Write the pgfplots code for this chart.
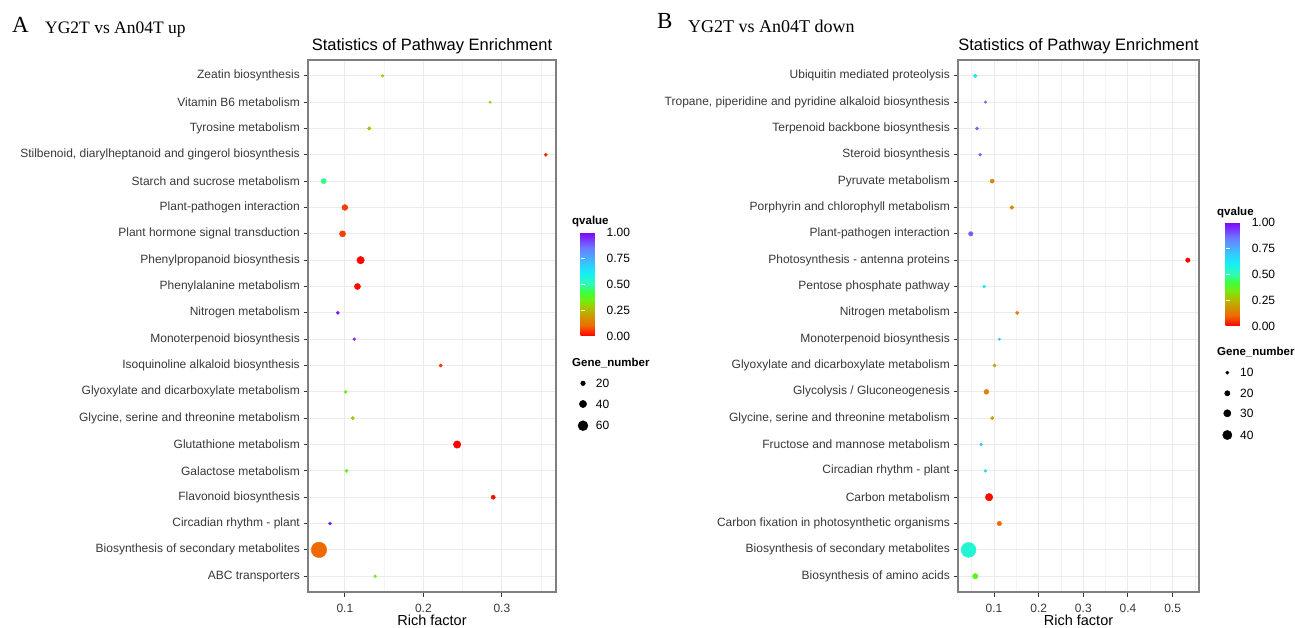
\documentclass[border=0pt]{standalone}
\usepackage{fontspec}
\setmainfont{Liberation Sans}
\newfontfamily\seriffont{Liberation Serif}
\usepackage{pgfplots}
\pgfplotsset{compat=1.18}
\usepackage{pgfplotstable}
\definecolor{framec}{HTML}{7F7F7F}
\definecolor{gridc}{HTML}{EBEBEB}
\definecolor{gridm}{HTML}{F3F3F3}
\definecolor{tickc}{HTML}{333333}
\definecolor{labc}{HTML}{383838}

\pgfplotstableread{
idx rf q n
20 0.148 0.30 5
19 0.285 0.33 3
18 0.131 0.25 10
17 0.356 0.04 8
16 0.073 0.47 23
15 0.100 0.06 28
14 0.097 0.06 30
13 0.120 0.005 40
12 0.116 0.01 30
11 0.091 0.97 8
10 0.112 0.95 5
9 0.222 0.06 8
8 0.101 0.36 8
7 0.110 0.26 10
6 0.243 0.00 40
5 0.102 0.36 10
4 0.289 0.01 15
3 0.081 0.96 8
2 0.067 0.10 100
1 0.1385 0.35 5
}\upT

\pgfplotstableread{
idx rf q n
20 0.058 0.62 12
19 0.081 0.88 5
18 0.062 0.88 8
17 0.069 0.88 7
16 0.096 0.15 13
15 0.140 0.15 12
14 0.048 0.88 15
13 0.534 0.00 15
12 0.078 0.63 7
11 0.152 0.14 10
10 0.112 0.70 5
9 0.101 0.20 8
8 0.083 0.15 17
7 0.096 0.20 10
6 0.071 0.68 7
5 0.081 0.64 7
4 0.089 0.01 30
3 0.112 0.10 15
2 0.043 0.55 67
1 0.058 0.37 20
}\downT

\pgfplotsset{
  colormap={qv}{rgb255(0pt)=(255,0,0) rgb255(10pt)=(240,105,0) rgb255(20pt)=(200,160,0) rgb255(27pt)=(170,195,0) rgb255(35pt)=(110,240,20) rgb255(42pt)=(60,255,60) rgb255(50pt)=(50,250,180) rgb255(60pt)=(20,240,245) rgb255(72pt)=(60,190,255) rgb255(85pt)=(110,120,255) rgb255(100pt)=(128,0,255)},
  enrich/.style={
    scale only axis, anchor=south west, height=532pt,
    ymin=0.4, ymax=20.6, ytick={1,...,20},
    grid=both,
    major grid style={gridc, line width=1pt},
    minor grid style={gridm, line width=0.6pt},
    axis line style={framec, line width=1.1pt},
    tick align=outside, major tick length=4.5pt, minor tick length=0pt,
    tick style={tickc, line width=1pt},
    xtick pos=left, ytick pos=left,
    colormap name=qv, point meta min=0, point meta max=1,
    ticklabel style={font=\fontsize{12}{14}\selectfont, text=labc},
    yticklabel style={anchor=east, inner sep=0pt, xshift=-3.5pt},
    xticklabel style={anchor=base, inner sep=0pt, yshift=-15.5pt},
    title style={font=\fontsize{16.5}{18}\selectfont, at={(0.5,1)}, anchor=base, yshift=3pt},
    xlabel style={font=\fontsize{14.5}{16}\selectfont, at={(axis description cs:0.5,0)}, anchor=base, yshift=-33pt},
    title={Statistics of Pathway Enrichment}, xlabel={Rich factor},
    /pgf/number format/assume math mode=true,
    colorbar,
  },
  cbar/.style={
    axis line style={draw=none},
    width=21pt, height=104pt,
    ytick={0,0.25,0.5,0.75,1}, yticklabels={0.00,0.25,0.50,0.75,1.00},
    tick align=inside, major tick length=4pt, tick style={white, line width=0.8pt},
    ytick pos=both, yticklabel pos=right,
    yticklabel style={anchor=west, inner sep=0pt, xshift=5pt, font=\fontsize{12}{14}\selectfont, text=black},
    /pgf/number format/assume math mode=true,
  },
}

\begin{document}
\begin{tikzpicture}
\useasboundingbox (0,0) rectangle (1295pt,627pt);

% Panel A
\begin{axis}[enrich, at={(308pt,35pt)}, width=248pt,
  xmin=0.053, xmax=0.369,
  xtick={0.1,0.2,0.3}, xticklabels={0.1,0.2,0.3},
  minor xtick={0.15,0.25,0.35},
  yticklabels={ABC transporters, Biosynthesis of secondary metabolites, Circadian rhythm - plant, Flavonoid biosynthesis, Galactose metabolism, Glutathione metabolism, {Glycine, serine and threonine metabolism}, Glyoxylate and dicarboxylate metabolism, Isoquinoline alkaloid biosynthesis, Monoterpenoid biosynthesis, Nitrogen metabolism, Phenylalanine metabolism, Phenylpropanoid biosynthesis, Plant hormone signal transduction, Plant-pathogen interaction, Starch and sucrose metabolism, {Stilbenoid, diarylheptanoid and gingerol biosynthesis}, Tyrosine metabolism, Vitamin B6 metabolism, Zeatin biosynthesis},
  colorbar style={cbar, at={(parent axis.north east)}, anchor=north west, xshift=16pt, yshift=-172pt},
]
\addplot[scatter, only marks, mark=*, scatter src=explicit,
  scatter/use mapped color={draw=mapped color, fill=mapped color},
  visualization depends on={1.1+0.0665*\thisrow{n} \as \msz},
  scatter/@pre marker code/.append style={/tikz/mark size=\msz pt}]
  table[x=rf, y=idx, meta=q] {\upT};
\end{axis}

% Panel B
\begin{axis}[enrich, at={(958pt,35pt)}, width=241pt,
  xmin=0.0194, xmax=0.559,
  xtick={0.1,0.2,0.3,0.4,0.5}, xticklabels={0.1,0.2,0.3,0.4,0.5},
  minor xtick={0.05,0.15,0.25,0.35,0.45,0.55},
  yticklabels={Biosynthesis of amino acids, Biosynthesis of secondary metabolites, Carbon fixation in photosynthetic organisms, Carbon metabolism, Circadian rhythm - plant, Fructose and mannose metabolism, {Glycine, serine and threonine metabolism}, Glycolysis / Gluconeogenesis, Glyoxylate and dicarboxylate metabolism, Monoterpenoid biosynthesis, Nitrogen metabolism, Pentose phosphate pathway, Photosynthesis - antenna proteins, Plant-pathogen interaction, Porphyrin and chlorophyll metabolism, Pyruvate metabolism, Steroid biosynthesis, Terpenoid backbone biosynthesis, {Tropane, piperidine and pyridine alkaloid biosynthesis}, Ubiquitin mediated proteolysis},
  colorbar style={cbar, at={(parent axis.north east)}, anchor=north west, xshift=18pt, yshift=-162pt},
]
\addplot[scatter, only marks, mark=*, scatter src=explicit,
  scatter/use mapped color={draw=mapped color, fill=mapped color},
  visualization depends on={0.75+0.1*\thisrow{n} \as \msz},
  scatter/@pre marker code/.append style={/tikz/mark size=\msz pt}]
  table[x=rf, y=idx, meta=q] {\downT};
\end{axis}

% Overlay: headings and size legends
\begin{axis}[at={(0pt,0pt)}, anchor=south west, scale only axis, width=1295pt, height=627pt,
  xmin=0, xmax=1295, ymin=0, ymax=627, y dir=reverse, hide axis, clip=false]
\addplot[only marks, mark=*, black, mark size=2.33pt] coordinates {(583,383.3)};
\addplot[only marks, mark=*, black, mark size=3.66pt] coordinates {(583,404)};
\addplot[only marks, mark=*, black, mark size=4.99pt] coordinates {(583,425.7)};
\addplot[only marks, mark=*, black, mark size=1.65pt] coordinates {(1227.3,372.7)};
\addplot[only marks, mark=*, black, mark size=2.65pt] coordinates {(1227.3,393.3)};
\addplot[only marks, mark=*, black, mark size=3.65pt] coordinates {(1227.3,413.3)};
\addplot[only marks, mark=*, black, mark size=4.65pt] coordinates {(1227.3,435)};

\node[anchor=base west, inner sep=0pt, font=\seriffont\fontsize{23}{23}\selectfont] at (axis cs:12,32) {A};
\node[anchor=base west, inner sep=0pt, font=\seriffont\fontsize{17.5}{18}\selectfont] at (axis cs:45,33) {YG2T vs An04T up};
\node[anchor=base west, inner sep=0pt, font=\seriffont\fontsize{23}{23}\selectfont] at (axis cs:657,28) {B};
\node[anchor=base west, inner sep=0pt, font=\seriffont\fontsize{18}{18}\selectfont] at (axis cs:688,32) {YG2T vs An04T down};

\begin{scope}[every node/.style={anchor=west, inner sep=0pt, font=\fontsize{12}{14}\selectfont}]
\node[font=\bfseries\fontsize{11.5}{14}\selectfont] at (axis cs:572,222) {qvalue};
\node[font=\bfseries\fontsize{11.5}{14}\selectfont] at (axis cs:572,363) {Gene\_number};
\node at (axis cs:595.7,383.3) {20};
\node at (axis cs:595.7,404) {40};
\node at (axis cs:595.7,425.7) {60};
\node[font=\bfseries\fontsize{11.5}{14}\selectfont] at (axis cs:1217,213) {qvalue};
\node[font=\bfseries\fontsize{11.5}{14}\selectfont] at (axis cs:1217,352) {Gene\_number};
\node at (axis cs:1240,372.7) {10};
\node at (axis cs:1240,393.3) {20};
\node at (axis cs:1240,413.3) {30};
\node at (axis cs:1240,435) {40};
\end{scope}
\end{axis}
\end{tikzpicture}
\end{document}
